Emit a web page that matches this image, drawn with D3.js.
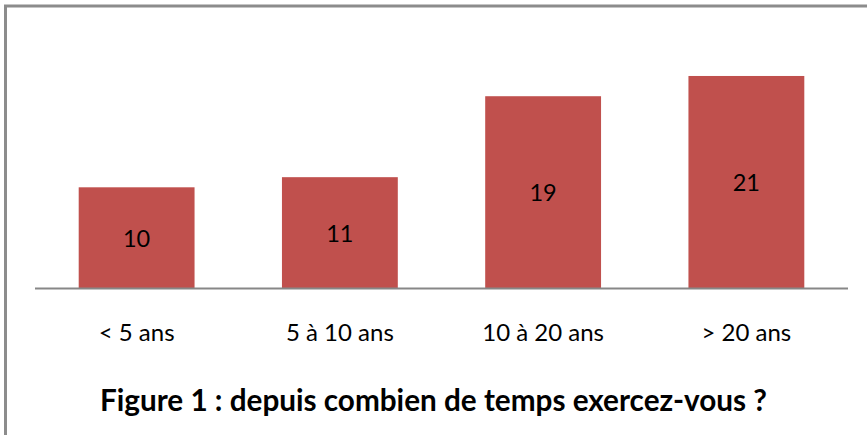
<!DOCTYPE html>
<html>
<head>
<meta charset="utf-8">
<script src="https://cdn.jsdelivr.net/npm/d3@7"></script>
<style>
  body { margin: 0; background: #fff; }
  svg { display: block; font-family: Lato, "Open Sans", sans-serif; }
</style>
</head>
<body>
<div id="chart"></div>
<script>
// values
var categories = ["< 5 ans", "5 à 10 ans", "10 à 20 ans", "> 20 ans"];
var counts = [10, 11, 19, 21];
var title = "Figure 1 : depuis combien de temps exercez-vous ?";

var width = 867, height = 435;

var svg = d3.select("#chart").append("svg")
    .attr("width", width)
    .attr("height", height);

// outer frame (runs off the right and bottom edge of the picture)
svg.append("rect")
    .attr("x", 5.5).attr("y", 6)
    .attr("width", 900).attr("height", 500)
    .attr("fill", "none")
    .attr("stroke", "#8c8c8c")
    .attr("stroke-width", 3);

var margin = {left: 35, right: 19, top: 35.5},
    baseline = 288.5;

var x = d3.scaleBand()
    .domain(categories)
    .range([margin.left, width - margin.right])
    .paddingInner(0.43)
    .paddingOuter(0.215);

var y = d3.scaleLinear()
    .domain([0, 25])
    .range([baseline, margin.top]);

var data = categories.map(function(c, i) { return {cat: c, value: counts[i]}; });

svg.append("g").selectAll("rect")
    .data(data)
    .enter().append("rect")
    .attr("x", function(d) { return x(d.cat); })
    .attr("y", function(d) { return y(d.value); })
    .attr("width", x.bandwidth())
    .attr("height", function(d) { return y(0) - y(d.value); })
    .attr("fill", "#c0504d");

// value labels in the middle of each bar
svg.append("g").selectAll("text")
    .data(data)
    .enter().append("text")
    .attr("x", function(d) { return x(d.cat) + x.bandwidth() / 2; })
    .attr("y", function(d) { return (y(d.value) + y(0)) / 2; })
    .attr("dy", "0.38em")
    .attr("text-anchor", "middle")
    .attr("font-size", 23.5)
    .attr("fill", "#000")
    .text(function(d) { return d.value; });

// category axis
var axis = svg.append("g")
    .attr("transform", "translate(0," + baseline + ")")
    .call(d3.axisBottom(x).tickSize(0).tickPadding(0));
axis.select(".domain")
    .attr("d", "M" + margin.left + ",0H" + (width - margin.right))
    .attr("stroke", "#878787")
    .attr("stroke-width", 2);
axis.selectAll("text")
    .attr("y", 52)
    .attr("dy", 0)
    .attr("font-size", 24)
    .attr("font-family", "Lato, 'Open Sans', sans-serif")
    .attr("fill", "#000");

svg.append("text")
    .attr("x", 433.5)
    .attr("y", 411)
    .attr("text-anchor", "middle")
    .attr("font-size", 29.7)
    .attr("font-weight", "bold")
    .attr("fill", "#000")
    .text(title);
</script>
</body>
</html>
